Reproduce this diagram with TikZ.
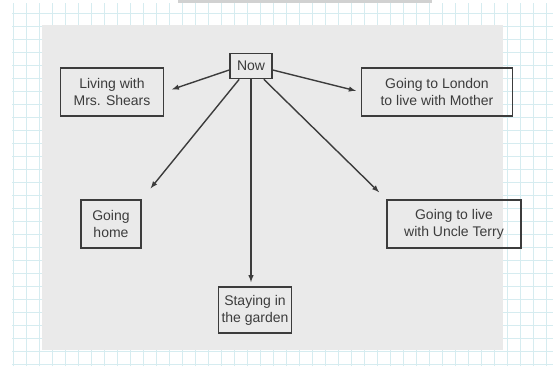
\documentclass[tikz,border=0pt]{standalone}
\usepackage{fontspec}
\setmainfont{Liberation Sans}
\usepackage{tikz}
\usetikzlibrary{arrows}
\usetikzlibrary{positioning}
\definecolor{gridblue}{RGB}{214,236,240}
\definecolor{pagegray}{RGB}{234,234,234}
\definecolor{inkgray}{RGB}{60,60,60}

\begin{document}
\begin{tikzpicture}[x=1pt,y=-1pt,box/.style={draw=inkgray, line width=1.6pt, align=center, text=inkgray, font=\fontsize{14}{17}\selectfont, inner sep=0pt, minimum height=48pt},thick,->,>= latex]
		
		% page and paper
		\useasboundingbox (0,0) rectangle (553,370);
		\fill[white] (0,0) rectangle (553,370);
		\draw[gridblue, line width=0.6pt, -] (12,3) grid[step=13pt] (553,366);
		\fill[pagegray] (42,25) rectangle (503,350);
		\fill[black!18] (178,0) rectangle (432,2.5);
		
		\node[box, minimum width=42pt, minimum height=25pt] (now) at (251,66) {Now};
		\node[box, minimum width=103pt] (shears) at (112,92) {Living with\\Mrs. Shears};
		\node[box, minimum width=151pt] (london) at (437,92) {Going to London\\to live with Mother};
		\node[box, minimum width=60pt] (home) at (111,224) {Going\\home};
		\node[box, minimum width=134pt] (terry) at (454,224) {Going to live\\with Uncle Terry};
		\node[box, minimum width=73pt, minimum height=46pt] (garden) at (255,310) {Staying in\\the garden};
		
		\draw[inkgray, line width=1.4pt, shorten >=8pt] (now.west |- 0,70) -- (shears.east);
		\draw[inkgray, line width=1.4pt, shorten >=5pt] (now.east |- 0,70) -- (london.west);
		\draw[inkgray, line width=1.4pt, shorten >=14pt] (now.south west) ++(10,0) -- (home.north east);
		\draw[inkgray, line width=1.4pt, shorten >=10pt] (now.south east) ++(-9,0) -- (terry.north west);
		\draw[inkgray, line width=1.4pt, shorten >=4pt] (now.south) -- (now.south |- garden.north);
		
		\end{tikzpicture}
\end{document}
